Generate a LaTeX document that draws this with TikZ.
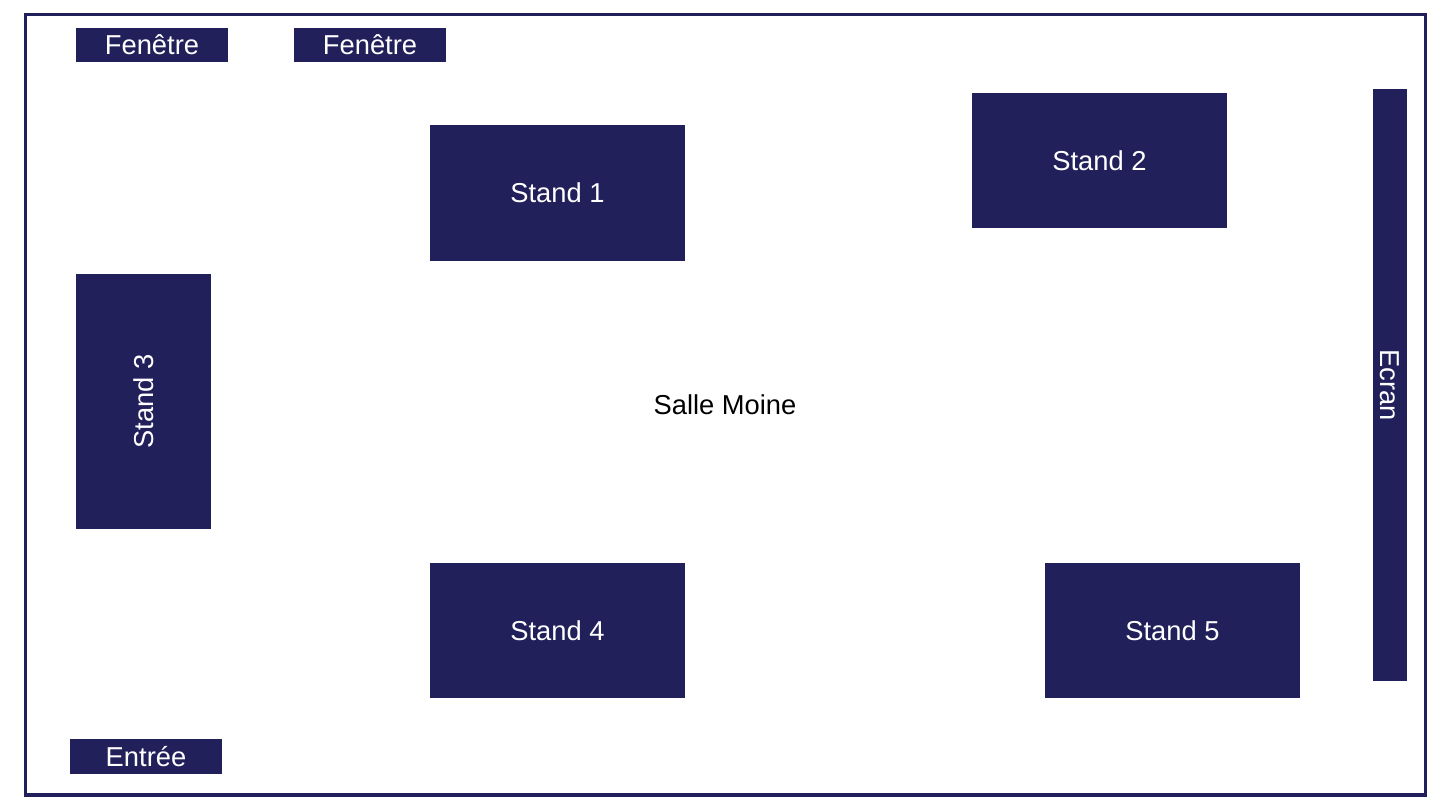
\documentclass[tikz,border=0pt]{standalone}
\usepackage{fontspec}
\setmainfont{Liberation Sans}
\definecolor{standblue}{RGB}{34,32,90}
\tikzset{
  standfill/.style={fill=standblue},
  standtext/.style={text=white, font=\fontsize{20.5}{24}\selectfont},
}
\begin{document}
\begin{tikzpicture}[x=0.75pt,y=0.75pt,yscale=-1,xscale=1]
\useasboundingbox (0,0) rectangle (1442,806);
 \draw [standblue, line width=2.4pt]  (25.5,14.5) rectangle (1425.5,795) ;

 \fill [standfill]  (76,28) rectangle (228,62) ;
 \fill [standfill]  (294,28) rectangle (446,62) ;
 \fill [standfill]  (430,125) rectangle (685,261) ;
 \fill [standfill]  (972,93) rectangle (1227,228) ;
 \fill [standfill]  (76,274) rectangle (211,529) ;
 \fill [standfill]  (430,563) rectangle (685,698) ;
 \fill [standfill]  (1045,563) rectangle (1300,698) ;
 \fill [standfill]  (1373,89) rectangle (1407,681) ;
 \fill [standfill]  (70,739) rectangle (222,774) ;

\draw (152,45) node (fen1) [standtext] {Fenêtre};
\draw (370,45) node (fen2) [standtext] {Fenêtre};
\draw (557.5,193) node (st1) [standtext] {Stand 1};
\draw (1099.5,160.5) node (st2) [standtext] {Stand 2};
\draw (143.5,401.5) node (st3) [standtext, rotate=90] {Stand 3};
\draw (557.5,630.5) node (st4) [standtext] {Stand 4};
\draw (1172.5,630.5) node (st5) [standtext] {Stand 5};
\draw (1390,385) node (ecran) [standtext, rotate=-90] {Ecran};
\draw (146,756.5) node (entree) [standtext] {Entrée};
\draw (725,405) node (salle) [font=\fontsize{20.5}{24}\selectfont] {Salle Moine};

\end{tikzpicture}
\end{document}
